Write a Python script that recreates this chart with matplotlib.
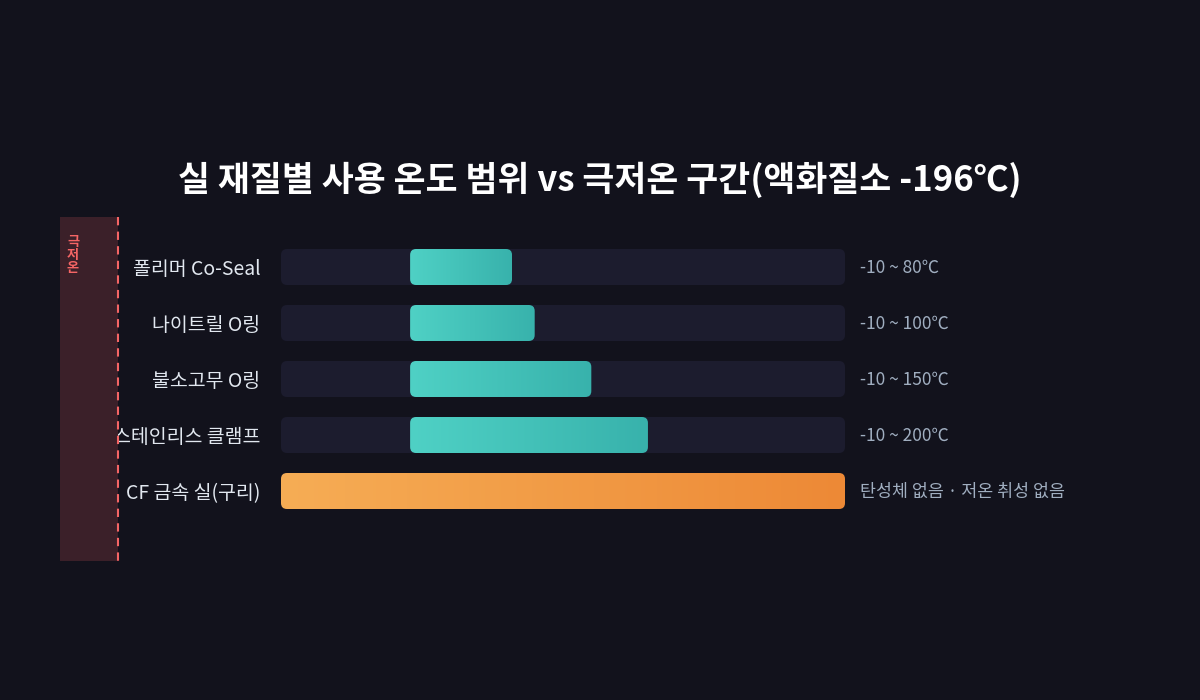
import numpy as np
import matplotlib.pyplot as plt
from matplotlib.patches import FancyBboxPatch, Rectangle
from matplotlib.lines import Line2D
from matplotlib.colors import LinearSegmentedColormap

plt.rcParams['font.family'] = ['Noto Sans CJK KR', 'DejaVu Sans']

# data
materials = ['폴리머 Co-Seal', '나이트릴 O링', '불소고무 O링', '스테인리스 클램프', 'CF 금속 실(구리)']
t_min = [-10, -10, -10, -10, None]
t_max = [80, 100, 150, 200, None]
value_labels = ['-10 ~ 80℃', '-10 ~ 100℃', '-10 ~ 150℃', '-10 ~ 200℃', '탄성체 없음 · 저온 취성 없음']
dom_min, dom_max = -124, 374

bg = '#12121c'
track_c = '#1c1c2e'
teal = ('#4fd1c5', '#38b2ac')
orange = ('#f6ad55', '#ed8936')

W, H = 1200, 700
fig = plt.figure(figsize=(12, 7), dpi=100, facecolor=bg)

# axes placed over the tracks (pixel layout)
left, right = 281, 845
top, bottom = 239, 519
ax = fig.add_axes([left / W, 1 - bottom / H, (right - left) / W, (bottom - top) / H])
ax.set_facecolor('none')
for s in ax.spines.values():
    s.set_visible(False)
ax.set_xticks([])
ax.set_yticks(range(len(materials)))
ax.set_yticklabels(materials, fontsize=14, color='#e2e8f0')
ax.tick_params(axis='y', length=0, pad=15)

px_x = (dom_max - dom_min) / (right - left)
px_y = len(materials) / (bottom - top)
aspect = px_y / px_x
bar_h = 36 * px_y
rad = 6 * px_x


def rbar(x0, x1, y, fc=None, grad=None):
    p = FancyBboxPatch((x0, y - bar_h / 2), x1 - x0, bar_h,
                       boxstyle=f'round,pad=0,rounding_size={rad}',
                       mutation_aspect=aspect, lw=0,
                       fc=fc if fc else 'none')
    ax.add_patch(p)
    if grad:
        cm = LinearSegmentedColormap.from_list('g', grad)
        im = ax.imshow(np.linspace(0, 1, 256)[None, :], cmap=cm, aspect='auto',
                       extent=(x0, x1, y + bar_h / 2, y - bar_h / 2), zorder=2)
        im.set_clip_path(p)


for i, name in enumerate(materials):
    rbar(dom_min, dom_max, i, fc=track_c)
    if t_min[i] is None:
        rbar(dom_min, dom_max, i, grad=orange)
    else:
        rbar(t_min[i], t_max[i], i, grad=teal)
    ax.annotate(value_labels[i], xy=(1, i), xycoords=('axes fraction', 'data'),
                xytext=(15, -1), textcoords='offset pixels', va='center', ha='left',
                fontsize=12.5, color='#a0aec0')

ax.set_xlim(dom_min, dom_max)
ax.set_ylim(len(materials) - 0.5, -0.5)

# cryogenic zone band
fig.patches.append(Rectangle((60 / W, 1 - 561 / H), 58 / W, (561 - 217) / H,
                             transform=fig.transFigure, fc='#3b2029', lw=0, zorder=0))
fig.lines.append(Line2D([118 / W, 118 / W], [1 - 217 / H, 1 - 561 / H],
                        transform=fig.transFigure, color='#f56565', lw=1.5,
                        ls=(0, (4, 3)), zorder=1))
fig.text(73 / W, 1 - 255 / H, '극\n저\n온', color='#f56565', fontsize=9.5,
         ha='center', va='center', linespacing=0.95, fontweight='bold')

fig.text(0.5, 1 - 180 / H, '실 재질별 사용 온도 범위 vs 극저온 구간(액화질소 -196℃)',
         ha='center', va='center', fontsize=25, fontweight='bold', color='white')

fig.savefig('out.png', dpi=100, facecolor=bg)
